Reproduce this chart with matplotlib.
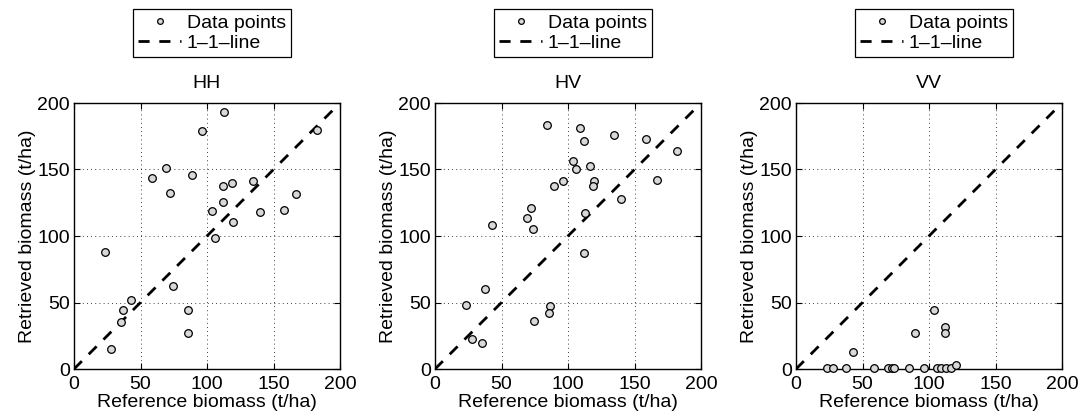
import numpy as np
import matplotlib.pyplot as plt

plt.rcParams['font.family'] = ['Liberation Sans', 'DejaVu Sans']
plt.rcParams['font.size'] = 14

# HH channel: reference vs retrieved biomass (t/ha)
hh_ref = [112.8, 96, 182.5, 69, 58.4, 89, 72, 111.8, 119, 134.3, 167, 111.8, 103.8,
          139.6, 158, 119.5, 106, 23, 74.4, 42.6, 37, 85.7, 35, 85.5, 27.6]
hh_ret = [193, 179, 179.4, 151, 143.5, 145.5, 132.5, 137.5, 140, 141, 131.7, 125.2, 119,
          118.4, 119.4, 110.7, 98.4, 88.3, 62.7, 51.7, 44.7, 44.2, 35.4, 27.1, 15.3]

# HV channel
hv_ref = [84.3, 108.9, 111.9, 134.5, 158.3, 182.2, 103.6, 106.1, 116.7, 95.9, 89.3, 119.7,
          118.9, 167.1, 139.8, 72.5, 69.3, 74, 42.7, 112.9, 111.9, 37.4, 23.3, 86.3, 85.8,
          74.5, 27.6, 35.1]
hv_ret = [183.4, 181.2, 171.1, 175.7, 172.9, 164.1, 156.3, 150.3, 152.6, 141, 137.8, 141.5,
          137.3, 141.8, 127.7, 120.7, 113.2, 105.6, 108.2, 117.4, 87.3, 60, 48.2, 47.2, 41.9,
          35.9, 22.8, 19.8]

# VV channel
vv_ref = [103.9, 89.3, 111.9, 111.9, 42.7, 23.1, 27.6, 37.4, 58.7, 69, 72, 74, 84.6,
          95.9, 106.2, 108.9, 112.9, 116.9, 120.2]
vv_ret = [44.2, 27.1, 31.9, 27.1, 12.8, 1, 1, 1, 1, 1, 1, 1, 1,
          1, 1, 1, 1, 1, 3]

panels = [('HH', hh_ref, hh_ret), ('HV', hv_ref, hv_ret), ('VV', vv_ref, vv_ret)]
lefts = [74, 435, 796]

fig = plt.figure(figsize=(10.8, 4.19), dpi=100)

for (name, ref, ret), left in zip(panels, lefts):
    ax = fig.add_axes([left / 1080, 50 / 419, 266 / 1080, 266 / 419])
    ax.plot(ref, ret, 'o', ms=5.5, mfc='#d9d9d9', mec='black', mew=0.9,
            label='Data points', clip_on=False, zorder=3)
    ax.plot([0, 200], [0, 200], '--', color='black', lw=2, dashes=(4, 3.5),
            label='1\u20131\u2013line', zorder=2)
    ax.set_xlim(0, 200)
    ax.set_ylim(0, 200)
    ax.set_xticks([0, 50, 100, 150, 200])
    ax.set_yticks([0, 50, 100, 150, 200])
    ax.grid(True, ls=(0, (1, 4)), color='black', lw=0.6)
    ax.tick_params(direction='in', top=True, right=True, length=4, width=0.8)
    ax.tick_params(axis='x', pad=5)
    ax.tick_params(axis='y', pad=3)
    for s in ax.spines.values():
        s.set_linewidth(1)
    ax.set_xlabel('Reference biomass (t/ha)', labelpad=1)
    ax.set_ylabel('Retrieved biomass (t/ha)', labelpad=1)
    ax.set_title(name, fontsize=14, pad=11)
    cx = (left + 138) / 1080
    leg = ax.legend(loc='center', bbox_to_anchor=(cx, 1 - 33 / 419),
                    bbox_transform=fig.transFigure, fancybox=False, framealpha=1,
                    edgecolor='black', borderpad=0.25, handlelength=2.2,
                    handletextpad=0.3, labelspacing=0.15, markerscale=0.75,
                    borderaxespad=0)
    leg.get_frame().set_linewidth(0.9)

fig.savefig('out.png', dpi=100)
